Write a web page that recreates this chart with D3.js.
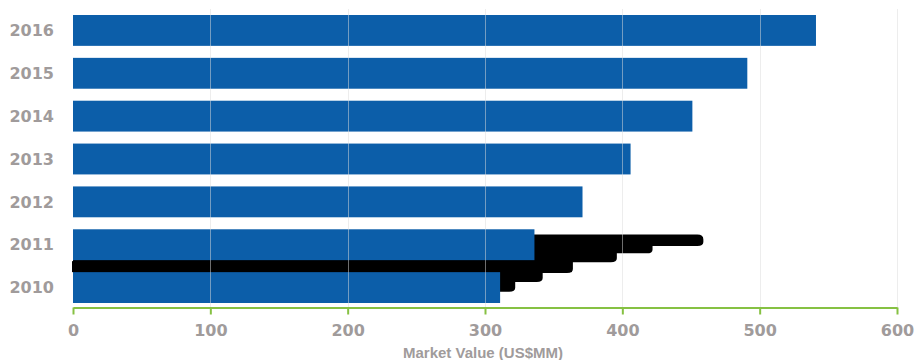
<!DOCTYPE html>
<html>
<head>
<meta charset="utf-8">
<script src="https://cdn.jsdelivr.net/npm/d3@7"></script>
<style>
  html, body { margin: 0; padding: 0; background: #ffffff; }
  svg { display: block; }
</style>
</head>
<body>
<svg id="chart" width="915" height="360"></svg>
<script>
// ---- data ----
const years = ["2016", "2015", "2014", "2013", "2012", "2011", "2010"];
const marketValues = [541, 491, 451, 406, 371, 336, 311];
const xTicks = [0, 100, 200, 300, 400, 500, 600];
const axisTitle = "Market Value (US$MM)";
// rendering glitch (black staircase) seen in the reference, in value units
const glitchSteps = [459, 422, 396, 364, 342, 322];

(function () {
const svg = d3.select("#chart");
const mLeft = 73, mRight = 897, mTop = 9, mBottom = 309;

const x = d3.scaleLinear().domain([0, 600]).range([mLeft, mRight]);
const y = d3.scaleBand().domain(years).range([mTop, mBottom])
  .paddingInner(0.28).paddingOuter(0.14);

const textColor = "#a09b9b";
const barColor = "#0c5ea9";

// glitch shape (drawn below bars) as one staircase path
const s = y.step();
const y11 = y("2011");
const tierEdges = [0.12, 0.39, 0.56, 0.77, 1.02, 1.23, 1.46];
const ys = tierEdges.map(f => y11 + f * s);
const p = d3.path();
const x0 = x(0);
p.moveTo(x0, ys[0]);
glitchSteps.forEach((v, i) => {
  const xe = x(v);
  const yt = ys[i], yb = ys[i + 1];
  const r = Math.min(4, (yb - yt) / 2);
  if (i === 0) {
    p.lineTo(xe - 6, yt);
    p.quadraticCurveTo(xe, yt, xe, yt + r + 1);
  } else {
    p.lineTo(xe, yt);
    p.lineTo(xe, yb - r);
  }
  if (i === 0) p.lineTo(xe, yb - r);
  p.quadraticCurveTo(xe, yb, xe - r - 2, yb);
  if (i < glitchSteps.length - 1) {
    p.lineTo(x(glitchSteps[i + 1]), yb);
  }
});
p.lineTo(x0, ys[ys.length - 1]);
p.closePath();
const g0 = svg.append("g");
g0.append("path").attr("d", p.toString()).attr("fill", "#000");
// black band between 2011 and 2010
g0.append("rect")
  .attr("x", x0 - 1)
  .attr("y", y("2011") + y.bandwidth() + 1)
  .attr("width", x(glitchSteps[3]) - x0)
  .attr("height", y("2010") - y("2011") - y.bandwidth() - 1)
  .attr("fill", "#000");

// bars
svg.append("g").selectAll("rect")
  .data(years)
  .join("rect")
  .attr("x", x(0))
  .attr("y", d => y(d))
  .attr("width", (d, i) => x(marketValues[i]) - x(0))
  .attr("height", y.bandwidth())
  .attr("fill", barColor);

// gridlines (on top)
svg.append("g").selectAll("line")
  .data(xTicks.slice(1))
  .join("line")
  .attr("x1", d => Math.round(x(d)) + 0.5)
  .attr("x2", d => Math.round(x(d)) + 0.5)
  .attr("y1", mTop)
  .attr("y2", mBottom - 1)
  .attr("stroke", "#dcdcdc")
  .attr("stroke-opacity", 0.5)
  .attr("stroke-width", 1);

// x axis
const xAxis = svg.append("g")
  .attr("transform", `translate(0,${307.5})`)
  .call(d3.axisBottom(x).tickValues(xTicks).tickSizeInner(7).tickSizeOuter(0).tickPadding(10));
xAxis.select(".domain").attr("stroke", "#86c143").attr("stroke-width", 2);
xAxis.selectAll(".tick line").attr("stroke", "#86c143").attr("stroke-width", 2);
xAxis.selectAll(".tick text")
  .attr("fill", textColor)
  .attr("font-family", "'DejaVu Sans', Verdana, sans-serif")
  .attr("font-weight", "bold")
  .attr("font-size", 16);

// y labels
svg.append("g").selectAll("text")
  .data(years)
  .join("text")
  .attr("x", 54)
  .attr("y", d => y(d) + y.bandwidth() / 2)
  .attr("dy", "0.36em")
  .attr("text-anchor", "end")
  .attr("fill", textColor)
  .attr("font-family", "'DejaVu Sans', Verdana, sans-serif")
  .attr("font-weight", "bold")
  .attr("font-size", 16)
  .text(d => d);

// axis title
svg.append("text")
  .attr("x", 483)
  .attr("y", 358)
  .attr("text-anchor", "middle")
  .attr("fill", textColor)
  .attr("font-family", "'Liberation Sans', Arial, sans-serif")
  .attr("font-weight", "bold")
  .attr("font-size", 15)
  .text(axisTitle);
})();
</script>
</body>
</html>
